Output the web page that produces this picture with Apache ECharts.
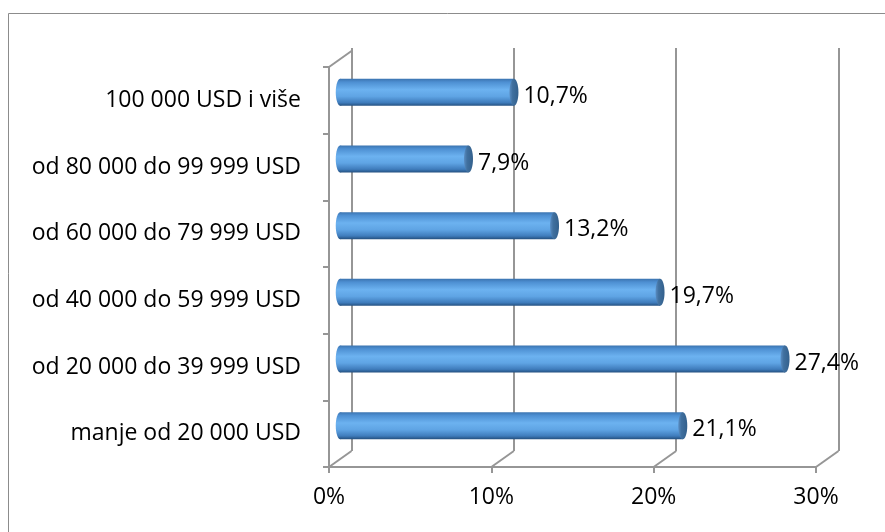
<!DOCTYPE html>
<html>
<head>
<meta charset="utf-8">
<script src="https://cdn.jsdelivr.net/npm/echarts@6/dist/echarts.min.js"></script>
<style>
  html, body { margin: 0; padding: 0; background: #fff; }
  #chart { width: 885px; height: 532px; }
</style>
</head>
<body>
<div id="chart"></div>
<script>
// ---- data ----
const categories = [
  'manje od 20 000 USD',
  'od 20 000 do 39 999 USD',
  'od 40 000 do 59 999 USD',
  'od 60 000 do 79 999 USD',
  'od 80 000 do 99 999 USD',
  '100 000 USD i više'
];
const values = [21.1, 27.4, 19.7, 13.2, 7.9, 10.7];
const xTicks = [0, 10, 20, 30];
const xMin = 0, xMax = 30, xStep = 10;

// ---- layout / style ----
const FONT = '"Open Sans", sans-serif';
const FS = 23;
const LINE = '#969696';
const DX = 22.5, DY = -16;            // depth offset front -> back
const FRONT = { left: 329, right: 69, top: 67, bottom: 65 };
const BACK = { left: FRONT.left + DX, right: FRONT.right - DX, top: FRONT.top + DY - 3, bottom: FRONT.bottom - DY };
const MID = { left: FRONT.left + DX / 2, right: FRONT.right - DX / 2, top: FRONT.top + DY / 2, bottom: FRONT.bottom - DY / 2 };

const fmt = v => v.toFixed(1).replace('.', ',') + '%';

const bodyGrad = {
  type: 'linear', x: 0, y: 0, x2: 0, y2: 1,
  colorStops: [
    { offset: 0, color: '#3b74b0' },
    { offset: 0.12, color: '#4d8fd2' },
    { offset: 0.4, color: '#6cb2f0' },
    { offset: 0.65, color: '#5fa4e4' },
    { offset: 0.88, color: '#3f7cbc' },
    { offset: 1, color: '#24507f' }
  ]
};
const capGrad = {
  type: 'linear', x: 0, y: 0, x2: 1, y2: 0,
  colorStops: [
    { offset: 0, color: '#5a8dc2' },
    { offset: 0.35, color: '#40709f' },
    { offset: 1, color: '#33608c' }
  ]
};

function renderSlants(params, api) {
  const cs = params.coordSys;
  const v = api.value(0);
  const x = api.coord([v, 0])[0];
  const floorY = cs.y + cs.height;
  const children = [{
    type: 'line',
    shape: { x1: x, y1: floorY, x2: x + DX, y2: floorY + DY },
    style: { stroke: LINE, lineWidth: 2 }
  }];
  if (v === xMin) {
    children.push({
      type: 'line',
      shape: { x1: x, y1: cs.y, x2: x + DX, y2: cs.y + DY },
      style: { stroke: LINE, lineWidth: 2 }
    });
  }
  return { type: 'group', children: children };
}

function renderBars(params, api) {
  const v = api.value(0);
  const c = api.value(1);
  const p0 = api.coord([xMin, c]);
  const p1 = api.coord([v, c]);
  const band = api.size([0, 1])[1];
  const h = band * 0.405;
  const ry = h / 2, rx = 4.5;
  return {
    type: 'group',
    children: [
      { type: 'ellipse', shape: { cx: p0[0], cy: p0[1], rx: rx, ry: ry }, style: { fill: bodyGrad } },
      { type: 'rect', shape: { x: p0[0], y: p0[1] - ry, width: p1[0] - p0[0], height: h }, style: { fill: bodyGrad } },
      { type: 'ellipse', shape: { cx: p1[0], cy: p1[1], rx: rx, ry: ry }, style: { fill: capGrad } },
      {
        type: 'text', x: p1[0] + rx + 5, y: p1[1] + 4,
        style: { text: fmt(v), fill: '#000', fontSize: FS, fontFamily: FONT, align: 'left', verticalAlign: 'middle' }
      }
    ]
  };
}

const chart = echarts.init(document.getElementById('chart'), null, { renderer: 'canvas' });
chart.setOption({
  animation: false,
  backgroundColor: '#ffffff',
  textStyle: { fontFamily: FONT },
  graphic: [{
    type: 'rect', z: 100, silent: true,
    shape: { x: 8.5, y: 13.5, width: 900, height: 600 },
    style: { fill: 'none', stroke: '#8c8c8c', lineWidth: 1 }
  }],
  grid: [
    Object.assign({}, FRONT),
    Object.assign({}, BACK),
    Object.assign({}, MID)
  ],
  xAxis: [
    {
      gridIndex: 0, type: 'value', min: xMin, max: xMax, interval: xStep,
      axisLine: { show: true, lineStyle: { color: LINE, width: 2 } },
      axisTick: { show: true, length: 6, lineStyle: { color: LINE, width: 2 } },
      axisLabel: { formatter: v => xTicks.indexOf(v) >= 0 ? v + '%' : '', margin: 19, fontSize: FS, color: '#000', fontFamily: FONT },
      splitLine: { show: false }
    },
    {
      gridIndex: 1, type: 'value', min: xMin, max: xMax, interval: xStep,
      axisLine: { show: false }, axisTick: { show: false }, axisLabel: { show: false },
      splitLine: { show: true, lineStyle: { color: LINE, width: 2 } }
    },
    { gridIndex: 2, type: 'value', min: xMin, max: xMax, show: false, splitLine: { show: false } }
  ],
  yAxis: [
    {
      gridIndex: 0, type: 'category', data: categories,
      axisLine: { show: true, lineStyle: { color: LINE, width: 2 } },
      axisTick: { show: true, length: 6, lineStyle: { color: LINE, width: 2 } },
      axisLabel: { margin: 28, fontSize: FS, color: '#000', fontFamily: FONT, padding: [7, 0, 0, 0] },
      splitLine: { show: false }
    },
    { gridIndex: 1, type: 'category', data: categories, show: false },
    { gridIndex: 2, type: 'category', data: categories, show: false }
  ],
  series: [
    {
      type: 'custom', xAxisIndex: 0, yAxisIndex: 0, silent: true,
      renderItem: renderSlants,
      data: xTicks.map(v => [v, 0])
    },
    {
      type: 'custom', xAxisIndex: 2, yAxisIndex: 2, silent: true, z: 5,
      renderItem: renderBars,
      data: values.map((v, i) => [v, i])
    }
  ]
});
</script>
</body>
</html>
